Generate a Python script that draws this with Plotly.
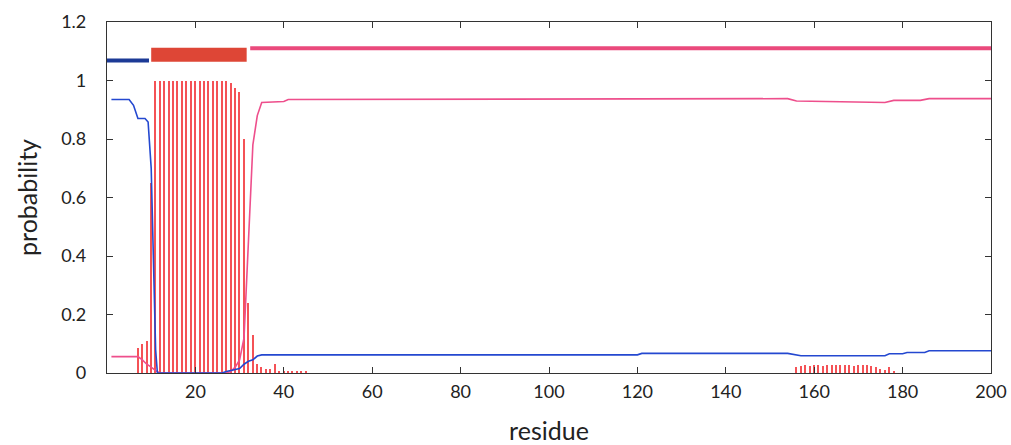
import plotly.graph_objects as go

# ---- data ----
# TM helix probability (red bars): residue -> value
tm_res = list(range(7, 46)) + list(range(156, 179))
tm_vals = [0.085, 0.10, 0.11, 0.65] + [1.0] * 16 + [1.0, 0.99, 0.975, 0.96, 0.80,
           0.24, 0.13, 0.03, 0.02, 0.015, 0.015, 0.03, 0.005, 0.005, 0.005, 0.005, 0.005, 0.005, 0.005] + \
          [0.02, 0.025, 0.028, 0.025, 0.028, 0.028, 0.025, 0.028, 0.028, 0.028, 0.028,
           0.028, 0.028, 0.025, 0.028, 0.028, 0.028, 0.025, 0.02, 0.015, 0.01, 0.022, 0.005]

# inside probability (blue line) breakpoints
blue_x = [1, 5, 6, 7, 8.6, 9.3, 10, 10.6, 11, 11.4, 26, 27, 28, 29, 30, 31, 32, 33, 34, 35,
          120, 121, 154, 157, 176, 177, 180, 181, 185, 186, 200]
blue_y = [0.935, 0.935, 0.915, 0.87, 0.87, 0.858, 0.70, 0.27, 0.08, 0.0, 0.0, 0.005, 0.008, 0.01,
          0.015, 0.03, 0.04, 0.045, 0.058, 0.062,
          0.062, 0.067, 0.067, 0.059, 0.059, 0.066, 0.066, 0.07, 0.07, 0.076, 0.076]

# outside probability (pink line) breakpoints
pink_x = [1, 7, 8, 9, 10, 11, 12, 27, 28, 29, 30, 31, 32, 33, 34, 35, 40, 41,
          154, 156, 176, 178, 184, 186, 200]
pink_y = [0.056, 0.056, 0.045, 0.03, 0.02, 0.008, 0.0, 0.0, 0.005, 0.02, 0.045, 0.12, 0.45,
          0.78, 0.88, 0.925, 0.928, 0.935,
          0.938, 0.93, 0.925, 0.932, 0.932, 0.938, 0.938]

# topology segments at top
inside_seg = [0, 9.5]
tm_seg = [10, 31.6]
outside_seg = [32.4, 200]

x_ticks = [20, 40, 60, 80, 100, 120, 140, 160, 180, 200]
y_ticks = [0, 0.2, 0.4, 0.6, 0.8, 1, 1.2]
y_labels = ["0", "0.2", "0.4", "0.6", "0.8", "1", "1.2"]

fig = go.Figure()

fig.add_trace(go.Bar(x=tm_res, y=tm_vals, width=0.34,
                     marker=dict(color="#f45256", line=dict(width=0)),
                     showlegend=False))

fig.add_trace(go.Scatter(x=pink_x, y=pink_y, mode="lines",
                         line=dict(color="#ee4f8c", width=1.6), showlegend=False))
fig.add_trace(go.Scatter(x=blue_x, y=blue_y, mode="lines",
                         line=dict(color="#2448d0", width=1.6), showlegend=False))

fig.add_trace(go.Scatter(x=inside_seg, y=[1.068, 1.068], mode="lines",
                         line=dict(color="#1c3a96", width=4), showlegend=False))
fig.add_trace(go.Scatter(x=tm_seg, y=[1.088, 1.088], mode="lines",
                         line=dict(color="#de4636", width=14), showlegend=False))
fig.add_trace(go.Scatter(x=outside_seg, y=[1.11, 1.11], mode="lines",
                         line=dict(color="#ea4a7c", width=4), showlegend=False))

font_family = "Lato, 'Open Sans', sans-serif"
fig.update_layout(
    width=1011, height=445,
    margin=dict(l=107, r=20, t=22, b=72, autoexpand=False),
    paper_bgcolor="white", plot_bgcolor="white",
    bargap=0,
    font=dict(family=font_family, color="#222222"),
    xaxis=dict(range=[0, 200], tickvals=x_ticks, automargin=False,
               ticks="inside", ticklen=6, tickcolor="#333", showgrid=False, zeroline=False,
               showline=True, linecolor="#333", linewidth=1.2, mirror="ticks",
               tickfont=dict(size=18), ticklabelstandoff=2,
               title=dict(text="residue", font=dict(size=25), standoff=22)),
    yaxis=dict(range=[0, 1.2], tickvals=y_ticks, ticktext=y_labels, automargin=False,
               ticks="inside", ticklen=6, tickcolor="#333", showgrid=False, zeroline=False,
               showline=True, linecolor="#333", linewidth=1.2, mirror="ticks",
               tickfont=dict(size=18), ticklabelstandoff=16,
               title=dict(text="probability", font=dict(size=25), standoff=16)),
)

fig.write_html("out.html", config={"displayModeBar": False},
               post_script="document.body.style.margin='0';document.body.style.overflow='hidden';")
